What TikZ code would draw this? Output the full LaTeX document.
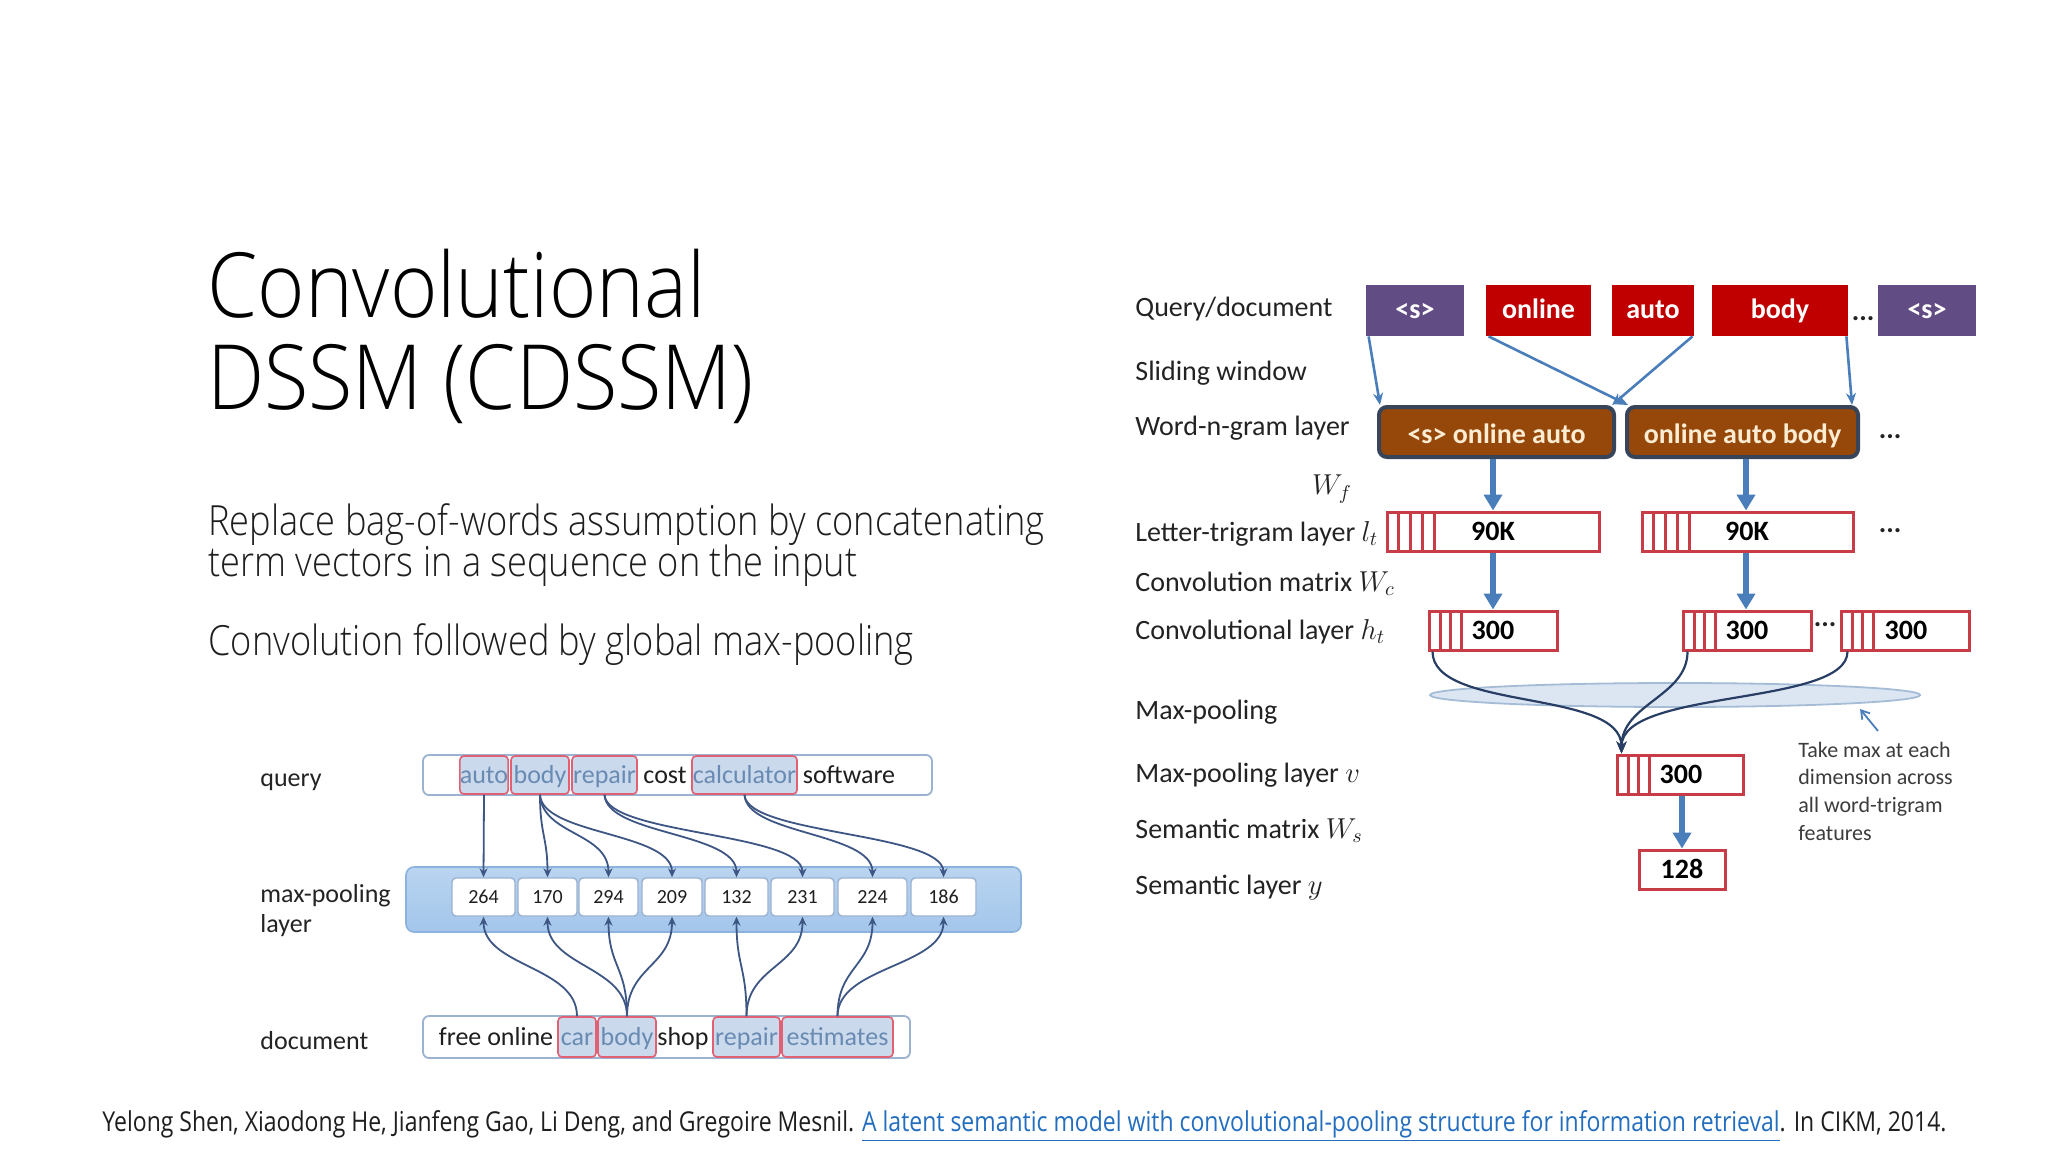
\documentclass[tikz,border=0pt]{standalone}
\usepackage{fontspec}
\usepackage{graphicx}
\usetikzlibrary{arrows.meta,calc,shapes.geometric}
\newfontfamily\slidefont{Open Sans}[FakeStretch=0.84]
\IfFontExistsTF{Open Sans Light}{%
  \newfontfamily\titlefont{Open Sans Light}[FakeStretch=0.9]%
  \newfontfamily\bodyfont{Open Sans Light}[FakeStretch=0.87]}{%
  \newfontfamily\titlefont{Open Sans}[FakeStretch=0.84]%
  \newfontfamily\bodyfont{Open Sans}[FakeStretch=0.84]}
\newfontfamily\calfont{Carlito}
\definecolor{purp}{RGB}{98,76,132}
\definecolor{wred}{RGB}{192,0,0}
\definecolor{ngbrown}{RGB}{150,72,10}
\definecolor{ngborder}{RGB}{55,68,90}
\definecolor{ngtext}{RGB}{252,236,210}
\definecolor{arrblue}{RGB}{74,126,187}
\definecolor{boxred}{RGB}{200,60,72}
\definecolor{navy}{RGB}{40,62,100}
\definecolor{ellfill}{RGB}{220,230,243}
\definecolor{elldraw}{RGB}{165,188,215}
\definecolor{lblgray}{RGB}{35,35,35}
\definecolor{annogray}{RGB}{60,60,60}
\definecolor{lframec}{RGB}{155,178,208}
\definecolor{hlfill}{RGB}{202,218,236}
\definecolor{hlbord}{RGB}{226,96,116}
\definecolor{hltext}{RGB}{105,138,178}
\definecolor{bandc}{RGB}{163,198,235}
\definecolor{bandd}{RGB}{140,178,222}
\definecolor{larrc}{RGB}{62,86,132}
\definecolor{linkblue}{RGB}{35,110,190}
\definecolor{txtc}{RGB}{30,30,30}
\newcommand\mkbox[6]{\node[#2, inner sep=0pt, minimum width={(#5-#3)*0.5pt}, minimum height={(#6-#4)*0.5pt}] (#1) at ({(#3+#5)/2},{(#4+#6)/2})}
\begin{document}
\begin{tikzpicture}[x=0.5pt,y=-0.5pt,
  lbl/.style={anchor=mid west, inner sep=0pt, text=lblgray, font=\calfont\fontsize{14}{16}\selectfont},
  wordbox/.style={fill=#1, text=white, font=\calfont\bfseries\fontsize{14}{16}\selectfont, text height=10pt, text depth=2.5pt},
  ngbox/.style={fill=ngbrown, draw=ngborder, line width=2pt, rounded corners=4pt, text=ngtext, font=\calfont\bfseries\fontsize{14}{16}\selectfont, text height=12pt, text depth=0.5pt},
  rbox/.style={draw=boxred, line width=1.5pt, fill=white, text=black, font=\calfont\bfseries\fontsize{14}{16}\selectfont, text height=10.5pt, text depth=1.4pt},
  btxt/.style={inner sep=0pt, text=black, font=\calfont\bfseries\fontsize{14}{16}\selectfont, text height=10.5pt, text depth=1.4pt},
  stripe/.style={draw=boxred, line width=1.5pt},
  dotsst/.style={anchor=base, inner sep=0pt, text=lblgray, font=\calfont\bfseries\fontsize{14}{16}\selectfont},
  warr/.style={draw=arrblue, line width=1.3pt, -{Stealth[length=6pt,width=5pt]}},
  tarr/.style={draw=arrblue, line width=3pt, -{Triangle[length=8pt,width=9pt]}},
  pcurve/.style={draw=navy, line width=1.1pt, -{Stealth[length=6pt,width=5pt]}},
  annarr/.style={draw=arrblue, line width=0.9pt, -{Straight Barb[length=4pt,width=5pt]}},
  anno/.style={anchor=mid west, inner sep=0pt, text=annogray, font=\calfont\fontsize{11}{13}\selectfont},
  llbl/.style={anchor=mid west, inner sep=0pt, text=lblgray, font=\calfont\fontsize{13}{15}\selectfont},
  lword/.style={inner sep=0pt, text=txtc, font=\calfont\fontsize{13}{15}\selectfont, text height=10pt, text depth=1.2pt},
  lframe/.style={draw=lframec, line width=0.9pt, fill=white, rounded corners=3pt},
  hl/.style={draw=hlbord, line width=0.8pt, fill=hlfill, rounded corners=2pt, text=hltext, font=\calfont\fontsize{13}{15}\selectfont, text height=10pt, text depth=1.2pt},
  bandst/.style={draw=bandd, line width=0.8pt, top color=bandc!75!white, bottom color=bandc, rounded corners=4pt},
  numbox/.style={draw=lframec, line width=0.7pt, fill=white, rounded corners=2pt, text=txtc, font=\calfont\fontsize{10}{12}\selectfont, text height=6.5pt, text depth=0pt},
  larr/.style={draw=larrc, line width=0.9pt, -{Stealth[length=4.5pt,width=4pt]}}
]
\useasboundingbox[fill=white] (0,0) rectangle (2048,1152);

% ---------- title and text ----------
\node[anchor=base west, inner sep=0pt, text=black, font=\titlefont\fontsize{45}{45}\selectfont] (t1) at (207,317) {Convolutional};
\node[anchor=base west, inner sep=0pt, text=black, font=\titlefont\fontsize{45}{45}\selectfont] (t2) at (207,409) {DSSM (CDSSM)};
\node[anchor=base west, inner sep=0pt, text=txtc, font=\bodyfont\fontsize{20.8}{22}\selectfont] (b1) at (208,535) {Replace bag-of-words assumption by concatenating};
\node[anchor=base west, inner sep=0pt, text=txtc, font=\bodyfont\fontsize{20.8}{22}\selectfont] (b2) at (208,576) {term vectors in a sequence on the input};
\node[anchor=base west, inner sep=0pt, text=txtc, font=\bodyfont\fontsize{20.8}{22}\selectfont] (b3) at (208,655) {Convolution followed by global max-pooling};
\node[anchor=base west, inner sep=0pt, text=txtc] (foot) at (102,1131) {\resizebox{922pt}{!}{\slidefont\fontsize{12}{14}\selectfont Yelong Shen, Xiaodong He, Jianfeng Gao, Li Deng, and Gregoire Mesnil. \textcolor{linkblue}{\underline{A latent semantic model with convolutional-pooling structure for information retrieval}}. In CIKM, 2014.}};

% ---------- right diagram: labels ----------
\node[lbl] (lq) at (1135,312) {Query/document};
\node[lbl] (lsw) at (1135,376) {Sliding window};
\node[lbl] (lwn) at (1135,431) {Word-n-gram layer};
\node[inner sep=0pt, text=lblgray, font=\calfont\fontsize{14}{16}\selectfont] (lwf) at (1332,489) {$W_f$};
\node[lbl] (llt) at (1135,537) {Letter-trigram layer $l_t$};
\node[lbl] (lcm) at (1135,587) {Convolution matrix $W_c$};
\node[lbl] (lcl) at (1135,635) {Convolutional layer $h_t$};
\node[lbl] (lmp) at (1135,715) {Max-pooling};
\node[lbl] (lml) at (1135,778) {Max-pooling layer $v$};
\node[lbl] (lsm) at (1135,834) {Semantic matrix $W_s$};
\node[lbl] (lsl) at (1135,890) {Semantic layer $y$};

% ---------- words ----------
\mkbox{s1}{wordbox=purp}{1366}{285}{1464}{336} {<s>};
\mkbox{w1}{wordbox=wred}{1486}{285}{1591}{336} {online};
\mkbox{w2}{wordbox=wred}{1612}{285}{1694}{336} {auto};
\mkbox{w3}{wordbox=wred}{1712}{285}{1848}{336} {body};
\node[dotsst] (d1) at (1863,320) {...};
\mkbox{s2}{wordbox=purp}{1878}{285}{1976}{336} {<s>};

\mkbox{ng1}{ngbox}{1379}{407}{1614}{457} {<s> online auto};
\mkbox{ng2}{ngbox}{1627}{407}{1858}{457} {online auto body};
\node[dotsst] (d2) at (1890,438) {...};

\draw[warr] ($(s1.south west)+(3,0)$) -- ($(ng1.north west)+(3,0)$);
\draw[warr] ($(w1.south west)+(3,0)$) -- ($(ng2.north west)+(3,0)$);
\draw[warr] ($(w2.south east)+(-2,0)$) -- ($(ng1.north east)+(-4,0)$);
\draw[warr] ($(w3.south east)+(-2,0)$) -- ($(ng2.north east)+(-8,0)$);

% ---------- letter trigram ----------
\mkbox{lt1}{rbox}{1387}{512}{1599}{551} {};
\foreach \xx in {1398,1410,1422,1434} \draw[stripe] (\xx,512) -- (\xx,551);
\node[btxt] (lt1t) at (1493,531.5) {90K};
\mkbox{lt2}{rbox}{1642}{512}{1853}{551} {};
\foreach \xx in {1653,1665,1677,1689} \draw[stripe] (\xx,512) -- (\xx,551);
\node[btxt] (lt2t) at (1747,531.5) {90K};
\node[dotsst] (d3) at (1890,532) {...};

\coordinate (colA) at (1493,0);
\coordinate (colB) at (1746,0);
\coordinate (colC) at (1682,0);
\draw[tarr] (ng1.south -| colA) -- (lt1.north -| colA);
\draw[tarr] (ng2.south -| colB) -- (lt2.north -| colB);

% ---------- convolutional ----------
\mkbox{c1}{rbox}{1429}{611}{1557}{650} {};
\foreach \xx in {1440,1450,1461} \draw[stripe] (\xx,611) -- (\xx,650);
\node[btxt] (c1t) at (1493,630.5) {300};
\mkbox{c2}{rbox}{1683}{611}{1811}{650} {};
\foreach \xx in {1694,1704,1715} \draw[stripe] (\xx,611) -- (\xx,650);
\node[btxt] (c2t) at (1747,630.5) {300};
\node[dotsst] (d4) at (1825,626) {...};
\mkbox{c3}{rbox}{1841}{611}{1969}{650} {};
\foreach \xx in {1852,1862,1873} \draw[stripe] (\xx,611) -- (\xx,650);
\node[btxt] (c3t) at (1906,630.5) {300};

\draw[tarr] (lt1.south -| colA) -- (c1.north -| colA);
\draw[tarr] (lt2.south -| colB) -- (c2.north -| colB);

% ---------- max pooling ----------
\node[ellipse, draw=elldraw, line width=0.9pt, fill=ellfill, inner sep=0pt, minimum width=245pt, minimum height=12pt] (pool) at (1675,695) {};

\mkbox{mp}{rbox}{1617}{755}{1743}{794} {};
\foreach \xx in {1628,1638,1649} \draw[stripe] (\xx,755) -- (\xx,794);
\node[btxt] (mpt) at (1681,774.5) {300};

\draw[pcurve] ($(c1.south west)+(5,0)$) .. controls +(0,60) and +(0,-65) .. ($(mp.north west)+(6,0)$);
\draw[pcurve] ($(c2.south west)+(6,0)$) .. controls +(0,45) and +(0,-50) .. ($(mp.north west)+(6,0)$);
\draw[pcurve] ($(c3.south west)+(8,0)$) .. controls +(0,55) and +(0,-65) .. ($(mp.north west)+(6,0)$);

\mkbox{sl}{rbox}{1639}{850}{1725}{889} {128};
\draw[tarr] (mp.south -| colC) -- (sl.north -| colC);

\node[anno] (an1) at (1798,753) {Take max at each};
\node[anno] (an2) at (1798,780) {dimension across};
\node[anno] (an3) at (1798,808) {all word-trigram};
\node[anno] (an4) at (1798,836) {features};
\coordinate (annA) at (1878,731);
\coordinate (annB) at (1860,709);
\draw[annarr] (annA) -- (annB);

% ---------- left bottom diagram ----------
\node[llbl] (lquery) at (260,782) {query};
\node[llbl] (lmax1) at (260,898) {max-pooling};
\node[llbl] (lmax2) at (260,928) {layer};
\node[llbl] (ldoc) at (260,1045) {document};

\mkbox{qbox}{lframe}{423}{755}{932}{795} {};
\mkbox{qauto}{hl}{460}{756}{508}{794} {auto};
\mkbox{qbody}{hl}{511}{756}{569}{794} {body};
\mkbox{qrep}{hl}{572}{756}{637}{794} {repair};
\node[lword] (qcost) at (665,775) {cost};
\mkbox{qcalc}{hl}{692}{756}{797}{794} {calculator};
\node[lword] (qsoft) at (849,775) {software};

\mkbox{band}{bandst}{406}{867}{1021}{932} {};
\mkbox{n1}{numbox}{452}{878}{515}{916} {264};
\mkbox{n2}{numbox}{518}{878}{577}{916} {170};
\mkbox{n3}{numbox}{579}{878}{638}{916} {294};
\mkbox{n4}{numbox}{642}{878}{702}{916} {209};
\mkbox{n5}{numbox}{705}{878}{768}{916} {132};
\mkbox{n6}{numbox}{771}{878}{834}{916} {231};
\mkbox{n7}{numbox}{838}{878}{907}{916} {224};
\mkbox{n8}{numbox}{911}{878}{976}{916} {186};

\mkbox{dbox}{lframe}{423}{1016}{910}{1058} {};
\node[lword] (dfree) at (496,1037) {free online};
\mkbox{dcar}{hl}{558}{1017}{596}{1057} {car};
\mkbox{dbody}{hl}{598}{1017}{656}{1057} {body};
\node[lword] (dshop) at (683,1037) {shop};
\mkbox{drep}{hl}{713}{1017}{780}{1057} {repair};
\mkbox{dest}{hl}{782}{1017}{893}{1057} {estimates};

% query -> pooling
\draw[larr] (qauto.south) -- (n1.north);
\draw[larr] (qbody.south) .. controls +(0,40) and +(0,-40) .. (n2.north);
\draw[larr] (qbody.south) .. controls +(2,40) and +(0,-45) .. (n3.north);
\draw[larr] (qbody.south) .. controls +(2,40) and +(0,-45) .. (n4.north);
\draw[larr] (qrep.south) .. controls +(2,40) and +(0,-45) .. (n5.north);
\draw[larr] (qrep.south) .. controls +(2,40) and +(0,-45) .. (n6.north);
\draw[larr] (qcalc.south) .. controls +(2,40) and +(0,-45) .. (n7.north);
\draw[larr] (qcalc.south) .. controls +(2,40) and +(0,-45) .. (n8.north);

% document -> pooling
\draw[larr] (dcar.north) .. controls +(0,-50) and +(0,50) .. (n1.south);
\draw[larr] (dbody.north) .. controls +(0,-50) and +(0,50) .. (n2.south);
\draw[larr] (dbody.north) .. controls +(0,-50) and +(0,50) .. (n3.south);
\draw[larr] (dbody.north) .. controls +(0,-50) and +(0,50) .. (n4.south);
\draw[larr] (drep.north) .. controls +(0,-50) and +(0,50) .. (n5.south);
\draw[larr] (drep.north) .. controls +(0,-50) and +(0,50) .. (n6.south);
\draw[larr] (dest.north) .. controls +(0,-50) and +(0,50) .. (n7.south);
\draw[larr] (dest.north) .. controls +(0,-50) and +(0,50) .. (n8.south);
\end{tikzpicture}
\end{document}
